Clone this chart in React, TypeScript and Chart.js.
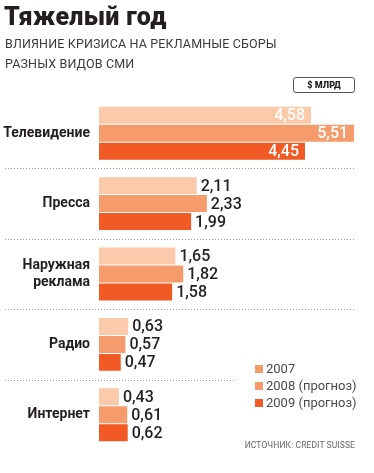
import React, { useEffect, useRef } from "react";
import { Chart, registerables } from "chart.js";

Chart.register(...registerables);

const categories: (string | string[])[] = ["Телевидение", "Пресса", ["Наружная", "реклама"], "Радио", "Интернет"];
const seriesNames = ["2007", "2008 (прогноз)", "2009 (прогноз)"];
const values2007 = [4.58, 2.11, 1.65, 0.63, 0.43];
const values2008 = [5.51, 2.33, 1.82, 0.57, 0.61];
const values2009 = [4.45, 1.99, 1.58, 0.47, 0.62];

const barColors = ["#fbcaab", "#f69c6c", "#f15a24"];
const legendColors = ["#f69c6c", "#f69c6c", "#f15a24"];
const FONT = "Roboto, 'Noto Sans', sans-serif";

const fmt = (v: number) => v.toFixed(2).replace(".", ",");

const separatorPlugin = {
  id: "separators",
  beforeDatasetsDraw(chart: any) {
    const ys = chart.scales.y;
    const ctx = chart.ctx;
    const n = categories.length;
    ctx.save();
    ctx.strokeStyle = "#9a9a9a";
    ctx.lineWidth = 1;
    ctx.setLineDash([1, 2]);
    for (let i = 0; i < n - 1; i++) {
      const y = Math.round((ys.getPixelForValue(i) + ys.getPixelForValue(i + 1)) / 2) + 0.5;
      const xEnd = i === n - 2 ? 235 : 356;
      ctx.beginPath();
      ctx.moveTo(5, y);
      ctx.lineTo(xEnd, y);
      ctx.stroke();
    }
    ctx.restore();
  },
};

const valueLabelPlugin = {
  id: "valueLabels",
  afterDatasetsDraw(chart: any) {
    const ctx = chart.ctx;
    ctx.save();
    ctx.font = `500 16px ${FONT}`;
    ctx.textBaseline = "middle";
    chart.data.datasets.forEach((ds: any, di: number) => {
      const meta = chart.getDatasetMeta(di);
      meta.data.forEach((el: any, i: number) => {
        const v = ds.data[i] as number;
        const text = fmt(v);
        if (v >= 4) {
          ctx.fillStyle = "#ffffff";
          ctx.textAlign = "right";
          ctx.fillText(text, el.x - 6, el.y + 1);
        } else {
          ctx.fillStyle = "#231f20";
          ctx.textAlign = "left";
          ctx.fillText(text, el.x + 4, el.y + 1);
        }
      });
    });
    ctx.restore();
  },
};

export default function App() {
  const canvasRef = useRef<HTMLCanvasElement>(null);

  useEffect(() => {
    if (!canvasRef.current) return;
    const chart = new Chart(canvasRef.current, {
      type: "bar",
      data: {
        labels: categories,
        datasets: [values2007, values2008, values2009].map((d, i) => ({
          label: seriesNames[i],
          data: d,
          backgroundColor: barColors[i],
          borderWidth: 0,
          categoryPercentage: 0.766,
          barPercentage: 0.944,
        })),
      },
      options: {
        indexAxis: "y",
        animation: false,
        responsive: true,
        maintainAspectRatio: false,
        layout: { padding: { top: 98, bottom: 23, left: 0, right: 6.5 } },
        plugins: {
          legend: { display: false },
          tooltip: { enabled: false },
          title: { display: false },
        },
        scales: {
          x: { display: false, min: 0, max: 5.8 },
          y: {
            grid: { display: false, drawTicks: false },
            border: { display: false },
            ticks: {
              color: "#231f20",
              padding: 9,
              font: { family: FONT, size: 14, weight: "bold", lineHeight: 1.2 },
            },
            afterFit(scale: any) {
              scale.width = 99;
            },
          },
        },
      },
      plugins: [separatorPlugin, valueLabelPlugin],
    });
    return () => chart.destroy();
  }, []);

  return (
    <div style={{ position: "absolute", left: 0, top: 0, width: 374, height: 473, fontFamily: FONT, background: "#fff", overflow: "hidden" }}>
      <canvas ref={canvasRef} style={{ position: "absolute", left: 0, top: 0 }} />
      <div style={{ position: "absolute", left: 0, top: 0, width: 374, height: 473 }}>
        <div style={{ position: "absolute", left: 4, top: 2, fontSize: 25, fontWeight: 900, color: "#231f20", lineHeight: "30px", whiteSpace: "nowrap", letterSpacing: 0.3 }}>
          Тяжелый год
        </div>
        <div style={{ position: "absolute", left: 5, top: 34, fontSize: 12.5, fontWeight: 400, color: "#3a3a3a", lineHeight: "19.5px", letterSpacing: 0.15 }}>
          ВЛИЯНИЕ КРИЗИСА НА РЕКЛАМНЫЕ СБОРЫ
          <br />
          РАЗНЫХ ВИДОВ СМИ
        </div>
        <div style={{ position: "absolute", left: 293, top: 77, width: 60, height: 14, border: "1px solid #555", borderRadius: 3, fontSize: 9, fontWeight: 900, color: "#231f20", textAlign: "center", lineHeight: "14px" }}>
          $ МЛРД
        </div>
        {seriesNames.map((name, i) => (
          <div key={name} style={{ position: "absolute", left: 255, top: 361 + i * 17, height: 16, display: "flex", alignItems: "center", whiteSpace: "nowrap" }}>
            <span style={{ display: "inline-block", width: 8, height: 8, background: legendColors[i], marginRight: 3 }} />
            <span style={{ fontSize: 13, color: "#4a4a4a", lineHeight: "16px" }}>{name}</span>
          </div>
        ))}
        <div style={{ position: "absolute", right: 19, top: 439, fontSize: 8.5, color: "#666", letterSpacing: 0.1, whiteSpace: "nowrap", lineHeight: "12px" }}>
          ИСТОЧНИК: CREDIT SUISSE
        </div>
      </div>
    </div>
  );
}
